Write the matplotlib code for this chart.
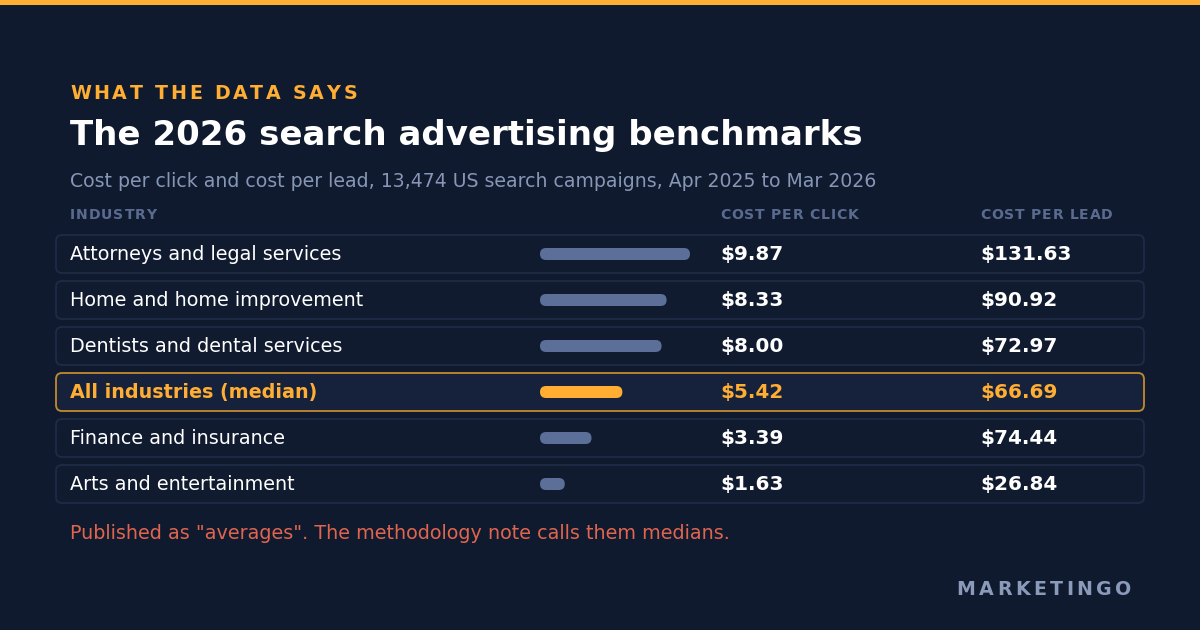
import matplotlib
matplotlib.use('Agg')
import matplotlib.pyplot as plt
from matplotlib.patches import FancyBboxPatch, Rectangle

plt.rcParams['font.family'] = ['DejaVu Sans']

industries = ['Attorneys and legal services', 'Home and home improvement',
              'Dentists and dental services', 'All industries (median)',
              'Finance and insurance', 'Arts and entertainment']
cpc = [9.87, 8.33, 8.00, 5.42, 3.39, 1.63]
cpl = [131.63, 90.92, 72.97, 66.69, 74.44, 26.84]
highlight = 3

BG = '#0f1a2e'
ORANGE = '#ffad33'
BAR = '#5b6f99'
HEAD = '#5a6b8f'
SUB = '#8796b5'
NOTE = '#e0654f'
WHITE = '#ffffff'

fig = plt.figure(figsize=(12, 6.3), dpi=100, facecolor=BG)
ax = fig.add_axes([0, 0, 1, 1])
ax.set_xlim(0, 1200)
ax.set_ylim(630, 0)
ax.axis('off')
ax.set_facecolor(BG)

PT = 0.72  # px -> pt at dpi 100
CAP = 0.729  # DejaVu cap height / em
renderer = fig.canvas.get_renderer()


def txt(x, y, s, px, **kw):
    # y = vertical centre of capital letters
    return ax.text(x, y - 1 + CAP * px / 2, s, fontsize=px * PT, va='baseline', **kw)


def spaced(x, y, s, spacing, px, ha='left', **kw):
    # text with letter spacing, placed char by char
    widths = []
    for ch in s:
        t = ax.text(0, 0, ch, fontsize=px * PT, **kw)
        widths.append(t.get_window_extent(renderer).width)
        t.remove()
    total = sum(widths) + spacing * (len(s) - 1)
    if ha == 'right':
        x = x - total
    cx = x
    for ch, w in zip(s, widths):
        txt(cx, y, ch, px, ha='left', **kw)
        cx += w + spacing


# top stripe
ax.add_patch(Rectangle((0, 0), 1200, 5, color=ORANGE, lw=0))

spaced(70, 93, 'WHAT THE DATA SAYS', 2.7, 19, color=ORANGE, fontweight='bold')
txt(70, 133.5, 'The 2026 search advertising benchmarks', 34,
    color=WHITE, fontweight='bold')
txt(70, 181.5, 'Cost per click and cost per lead, 13,474 US search campaigns, Apr 2025 to Mar 2026',
    18.9, color=SUB)

hkw = dict(color=HEAD, fontweight='bold')
spaced(70, 214.5, 'INDUSTRY', 0.9, 14, **hkw)
spaced(720, 214.5, 'COST PER CLICK', 0.8, 14, **hkw)
spaced(980, 214.5, 'COST PER LEAD', 0.8, 14, **hkw)

row_y0 = 254
row_step = 46
bar_x = 540
px_per_dollar = 150 / max(cpc)
bar_h = 12

for i, (name, c, l) in enumerate(zip(industries, cpc, cpl)):
    yc = row_y0 + i * row_step
    hi = i == highlight
    ax.add_patch(FancyBboxPatch((56, yc - 19), 1088, 38,
                                boxstyle='round,pad=0,rounding_size=6',
                                facecolor='#16223c' if hi else '#111b30',
                                edgecolor='#c4892e' if hi else '#1f2b46', lw=1.3))
    w = c * px_per_dollar
    ax.add_patch(FancyBboxPatch((bar_x, yc - bar_h / 2), w, bar_h,
                                boxstyle='round,pad=0,rounding_size=6',
                                facecolor=ORANGE if hi else BAR, lw=0))
    tc = ORANGE if hi else WHITE
    txt(70, yc, name, 19.2, color=tc, fontweight='bold' if hi else 'normal')
    txt(720, yc, f'${c:.2f}', 20, color=tc, fontweight='bold')
    txt(980, yc, f'${l:.2f}', 20, color=tc, fontweight='bold')

txt(70, 533, 'Published as "averages". The methodology note calls them medians.',
    19.1, color=NOTE)

spaced(1131, 589, 'MARKETINGO', 3.4, 19, ha='right', color='#8a9ab8', fontweight='bold')

fig.savefig('out.png', dpi=100, facecolor=BG)
